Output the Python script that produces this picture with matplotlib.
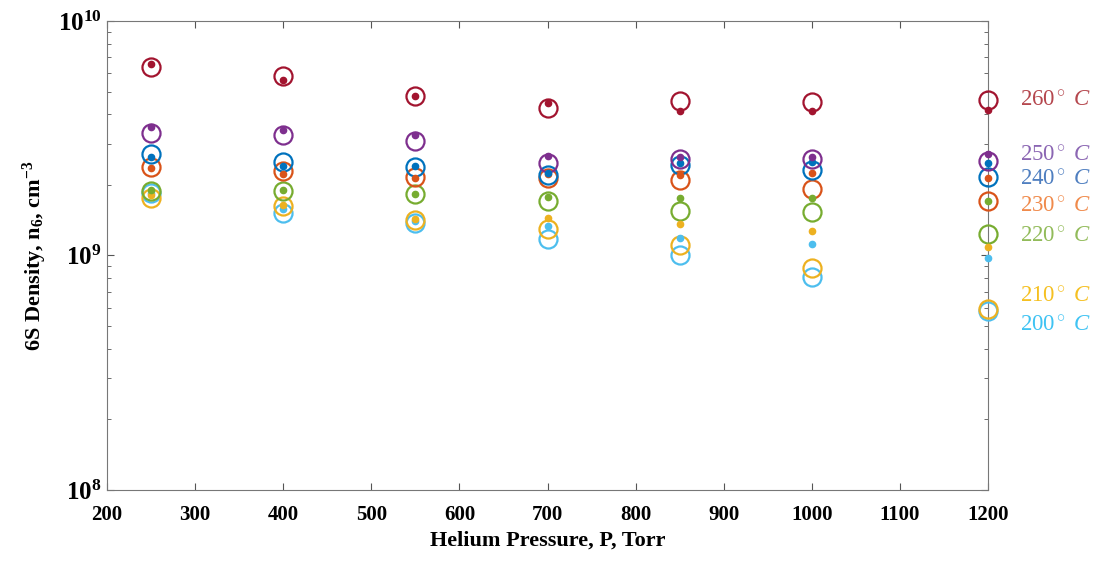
import matplotlib
matplotlib.use('Agg')
import matplotlib.pyplot as plt
import numpy as np

plt.rcParams.update({'font.family': 'Liberation Serif',
                     'mathtext.fontset': 'custom',
                     'mathtext.rm': 'Liberation Serif',
                     'mathtext.it': 'Liberation Serif:italic',
                     'mathtext.bf': 'Liberation Serif:bold'})

pressure = [250, 400, 550, 700, 850, 1000, 1200]
temps = ['200', '210', '220', '230', '240', '250', '260']

# open circles (measured), units of 1e9 cm^-3
circ_200 = [1.85, 1.52, 1.38, 1.17, 1.00, 0.81, 0.58]
circ_210 = [1.75, 1.62, 1.41, 1.30, 1.11, 0.88, 0.59]
circ_220 = [1.89, 1.89, 1.82, 1.70, 1.55, 1.54, 1.24]
circ_230 = [2.39, 2.30, 2.16, 2.15, 2.10, 1.92, 1.70]
circ_240 = [2.71, 2.50, 2.39, 2.21, 2.42, 2.32, 2.17]
circ_250 = [3.32, 3.27, 3.08, 2.47, 2.57, 2.57, 2.52]
circ_260 = [6.38, 5.85, 4.78, 4.25, 4.56, 4.51, 4.62]

# small filled dots (model), units of 1e9 cm^-3
dot_200 = [1.85, 1.58, 1.40, 1.33, 1.19, 1.12, 0.98]
dot_210 = [1.81, 1.64, 1.43, 1.44, 1.36, 1.27, 1.09]
dot_220 = [1.90, 1.90, 1.82, 1.78, 1.76, 1.76, 1.71]
dot_230 = [2.36, 2.22, 2.14, 2.22, 2.21, 2.25, 2.13]
dot_240 = [2.64, 2.40, 2.40, 2.25, 2.48, 2.50, 2.48]
dot_250 = [3.52, 3.42, 3.26, 2.66, 2.62, 2.64, 2.70]
dot_260 = [6.56, 5.60, 4.78, 4.45, 4.15, 4.14, 4.16]

circles = [circ_200, circ_210, circ_220, circ_230, circ_240, circ_250, circ_260]
dots = [dot_200, dot_210, dot_220, dot_230, dot_240, dot_250, dot_260]
label_y = [0.52, 0.686, 1.24, 1.67, 2.18, 2.76, 4.74]

colors = ['#4DBEEE', '#EDB120', '#77AC30', '#D95319', '#0072BD', '#7E2F8E', '#A2142F']
label_colors = ['#3fc3f3', '#f5c021', '#92bb5a', '#f08a4b', '#4f7fc0', '#8b66b3', '#b5474e']

fig = plt.figure(figsize=(11.07, 5.61), dpi=100)
ax = fig.add_axes([0.0967, 0.1266, 0.7958, 0.836])

for c, col in zip(circles, colors):
    ax.plot(pressure, np.array(c) * 1e9, 'o', mfc='none', mec=col, ms=13, mew=1.6,
            clip_on=False, zorder=3)
for d, col in zip(dots, colors):
    ax.plot(pressure, np.array(d) * 1e9, 'o', color=col, ms=4.5, clip_on=False, zorder=4)

for t, ly, col in zip(temps, label_y, label_colors):
    ax.annotate(t + r'$^\circ$ $C$', xy=(1, ly * 1e9), xycoords=('axes fraction', 'data'),
                xytext=(23, -2.5), textcoords='offset points', va='center', ha='left',
                fontsize=16.5, color=col, annotation_clip=False)

ax.set_yscale('log')
ax.set_xlim(200, 1200)
ax.set_ylim(1e8, 1e10)
ax.set_xticks(np.arange(200, 1201, 100))
ax.set_yticks([1e8, 1e9, 1e10])
ax.set_yticklabels([r'$\mathbf{10^8}$', r'$\mathbf{10^9}$', r'$\mathbf{10^{10}}$'])
ax.tick_params(which='both', direction='in', top=True, right=True, labelsize=15,
               color='#555555')
ax.tick_params(axis='y', labelsize=18, pad=4)
ax.tick_params(axis='x', pad=11)
ax.tick_params(which='major', length=5)
ax.tick_params(which='minor', length=3)
for lbl in ax.get_xticklabels():
    lbl.set_fontweight('bold')
for s in ax.spines.values():
    s.set_color('#777777')

ax.set_xlabel('Helium Pressure, P, Torr', fontsize=16, fontweight='bold', labelpad=4)
ax.set_ylabel(r'6S Density, n$_\mathbf{6}$, cm$^\mathbf{-3}$', fontsize=16,
              fontweight='bold', labelpad=6)

fig.savefig('out.png', dpi=100)
